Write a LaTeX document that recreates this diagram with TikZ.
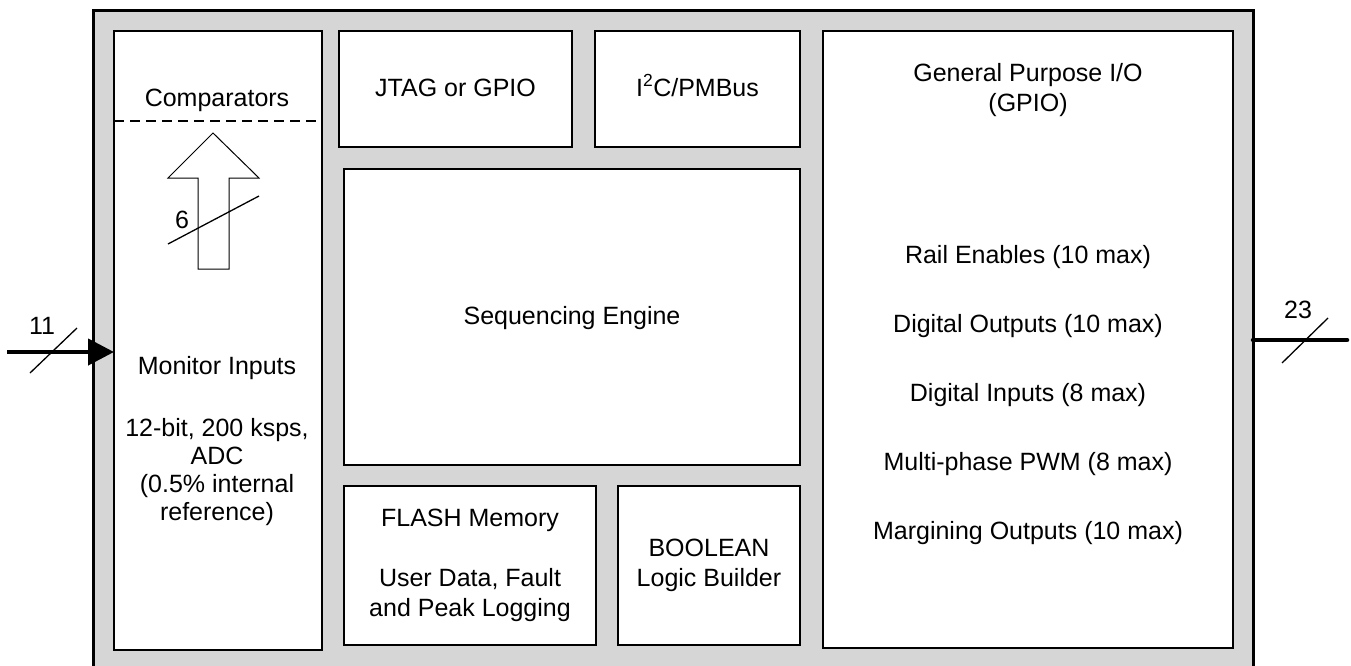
\documentclass[tikz,border=0pt]{standalone}
\usepackage{fontspec}
\setmainfont{Liberation Sans}
\usetikzlibrary{arrows.meta}
\definecolor{chipgray}{HTML}{D6D6D6}
\begin{document}
\begin{tikzpicture}[x=1pt,y=-1pt,
  every node/.style={font=\fontsize{25}{30}\selectfont, inner sep=0pt, outer sep=0pt},
  blk/.style={draw=black, line width=1.5pt, fill=white, anchor=north west},
  txt/.style={align=center, anchor=center},
  btxt/.style={anchor=base},
  slash/.style={line width=1.3pt},
  bus/.style={line width=4.5pt}
]
\useasboundingbox (0,0) rectangle (1351,665);
% outer chip
\node[draw=black, line width=3pt, fill=chipgray, anchor=north west,
      minimum width=1160pt, minimum height=660pt] (chip) at (93,10) {};
% blocks
\node[blk, minimum width=208pt, minimum height=619pt] (mon) at (114,31) {};
\node[blk, minimum width=233pt, minimum height=116pt] (jtag) at (339,31) {};
\node[blk, minimum width=205pt, minimum height=116pt] (i2c) at (595,31) {};
\node[blk, minimum width=456pt, minimum height=296pt] (seq) at (344,169) {};
\node[blk, minimum width=252pt, minimum height=159pt] (flash) at (344,486) {};
\node[blk, minimum width=182pt, minimum height=159pt] (bool) at (618,486) {};
\node[blk, minimum width=410pt, minimum height=617pt] (gpio) at (823,31) {};
% comparators separator
\coordinate (dl) at (114,121);
\draw[line width=1.5pt, dash pattern=on 10pt off 6pt] (dl) -- (dl -| mon.east);
% texts
\node[btxt] (tcomp) at (217,106) {Comparators};
\node[btxt] (tjtag) at (455.5,96) {JTAG or GPIO};
\node[btxt] (ti2c) at (697.5,96) {I\textsuperscript{2}C/PMBus};
\node[txt] (tseq) at (572,318) {Sequencing Engine};
\node[txt] (tflash) at (470,565) {FLASH Memory\\[30pt]User Data, Fault\\and Peak Logging};
\node[txt] (tbool) at (709,565) {BOOLEAN\\Logic Builder};
\node[txt] (tmon) at (217,368) {Monitor Inputs};
\node[txt, font=\fontsize{25}{28}\selectfont] (tadc) at (217,472) {12-bit, 200 ksps,\\ADC\\(0.5\% internal\\reference)};
\node[txt] (tgpio) at (1028,90) {General Purpose I/O\\(GPIO)};
\node[txt] (g1) at (1028,257) {Rail Enables (10 max)};
\node[txt] (g2) at (1028,326) {Digital Outputs (10 max)};
\node[txt] (g3) at (1028,395) {Digital Inputs (8 max)};
\node[txt] (g4) at (1028,464) {Multi-phase PWM (8 max)};
\node[txt] (g5) at (1028,533) {Margining Outputs (10 max)};
% hollow arrow to comparators
\draw[line width=1pt, fill=white] (198,269) -- (198,178) -- (168,178) -- (213,133)
  -- (259,178) -- (229,178) -- (229,269) -- cycle;
\coordinate (s6a) at (168,244);
\coordinate (s6b) at (259,196);
\draw[slash] (s6a) -- (s6b);
\node (l6) at (182,220) {6};
% input bus
\coordinate (inS) at (7,352);
\draw[bus, -{Triangle[length=26pt,width=26pt]}] (inS) -- (inS -| mon.west);
\coordinate (s11a) at (30,373);
\coordinate (s11b) at (77,328);
\draw[slash] (s11a) -- (s11b);
\node (l11) at (42,326) {11};
% output bus
\coordinate (outE) at (1347,340);
\draw[bus, line cap=round] (outE -| chip.east) -- (outE);
\coordinate (s23a) at (1282,363);
\coordinate (s23b) at (1328,318);
\draw[slash] (s23a) -- (s23b);
\node (l23) at (1298,310) {23};
\end{tikzpicture}
\end{document}
